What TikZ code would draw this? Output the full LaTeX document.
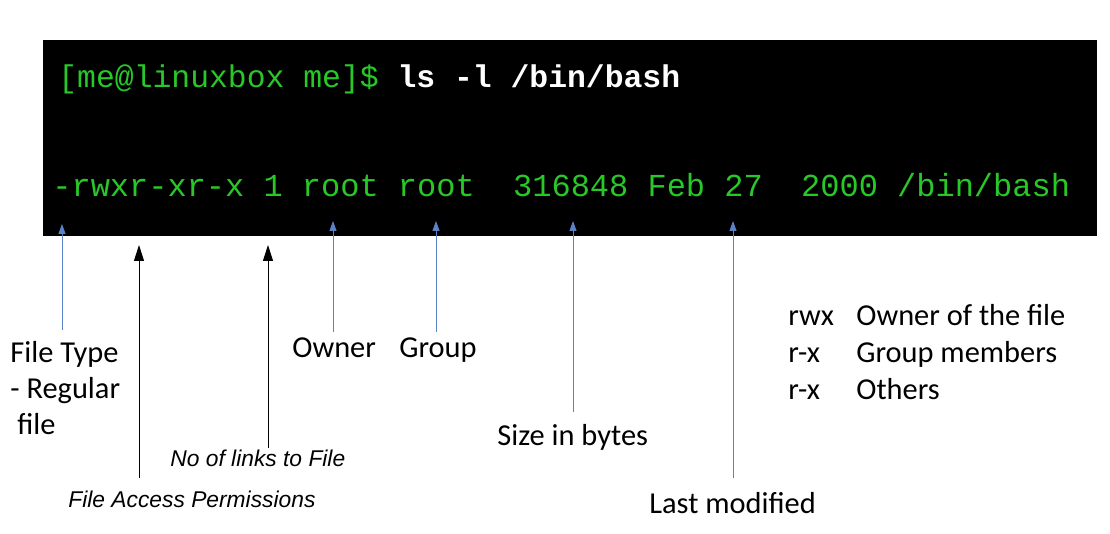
\documentclass[tikz,border=0pt]{standalone}
\usepackage{fontspec}
\setmainfont{Carlito}
\newfontfamily\termfont{Liberation Mono}
\newfontfamily\italfont{Liberation Sans}
\usetikzlibrary{arrows.meta, positioning}
\definecolor{termgreen}{RGB}{40,200,40}
\definecolor{arrowblue}{RGB}{90,130,200}
\tikzset{
  label/.style={inner sep=0pt, anchor=base west, font=\fontsize{15.2}{18.2}\selectfont},
  note/.style={inner sep=0pt, anchor=base west, font=\italfont\itshape\fontsize{11.4}{13}\selectfont},
  bluearrow/.style={arrowblue, line width=0.5pt, -{Triangle[length=5pt,width=3.5pt]}},
  blackarrow/.style={black, line width=0.5pt, -{Triangle[length=8pt,width=5pt]}}
}
\begin{document}
\begin{tikzpicture}[x=0.5pt, y=-0.5pt]
    \useasboundingbox (0,0) rectangle (1110,534);
    % Terminal
    \fill[black] (43,40) rectangle (1097,236);
    \node[inner sep=0pt, anchor=base west, font=\termfont\fontsize{15.7}{18}\selectfont, text=termgreen] (prompt) at (58,88)
        {[me@linuxbox me]\$ \textcolor{white}{\bfseries ls -l /bin/bash}};
    \node[inner sep=0pt, anchor=base west, font=\termfont\fontsize{16}{19}\selectfont, text=termgreen] (listing) at (52,197)
        {-rwxr-xr-x 1 root root\ \ 316848 Feb 27\ \ 2000 /bin/bash};

    % Labels
    \node[label, align=left] (ftype) at (10,435) {File Type\\- Regular\\\ file};
    \node[label] (owner) at (292,358) {Owner};
    \node[label] (group) at (399,358) {Group};
    \node[label] (size) at (497,446) {Size in bytes};
    \node[label] (modified) at (649,514) {Last modified};
    \node[note] (links) at (170,467) {No of links to File};
    \node[note] (perms) at (68,508) {File Access Permissions};

    % Legend
    \node[label] (l1) at (788,326) {rwx};
    \node[label] (l2) at (788,363) {r-x};
    \node[label] (l3) at (788,400) {r-x};
    \node[label] (d1) at (856,326) {Owner of the file};
    \node[label] (d2) at (856,363) {Group members};
    \node[label] (d3) at (856,400) {Others};

    % Connectors
    \coordinate (tf) at (62,224);
    \coordinate (tp) at (139,245);
    \coordinate (tl) at (268,245);
    \coordinate (to) at (333,221);
    \coordinate (tg) at (436,221);
    \coordinate (ts) at (573,221);
    \coordinate (tm) at (733,221);
    \draw[bluearrow] (62,330) -- (tf);
    \draw[blackarrow] (139,478) -- (tp);
    \draw[blackarrow] (268,448) -- (tl);
    \draw[bluearrow] (owner.north -| to) ++(0,-6) -- (to);
    \draw[bluearrow] (group.north -| tg) ++(0,-6) -- (tg);
    \draw[bluearrow] (573,412) -- (ts);
    \draw[bluearrow] (733,478) -- (tm);
\end{tikzpicture}
\end{document}
